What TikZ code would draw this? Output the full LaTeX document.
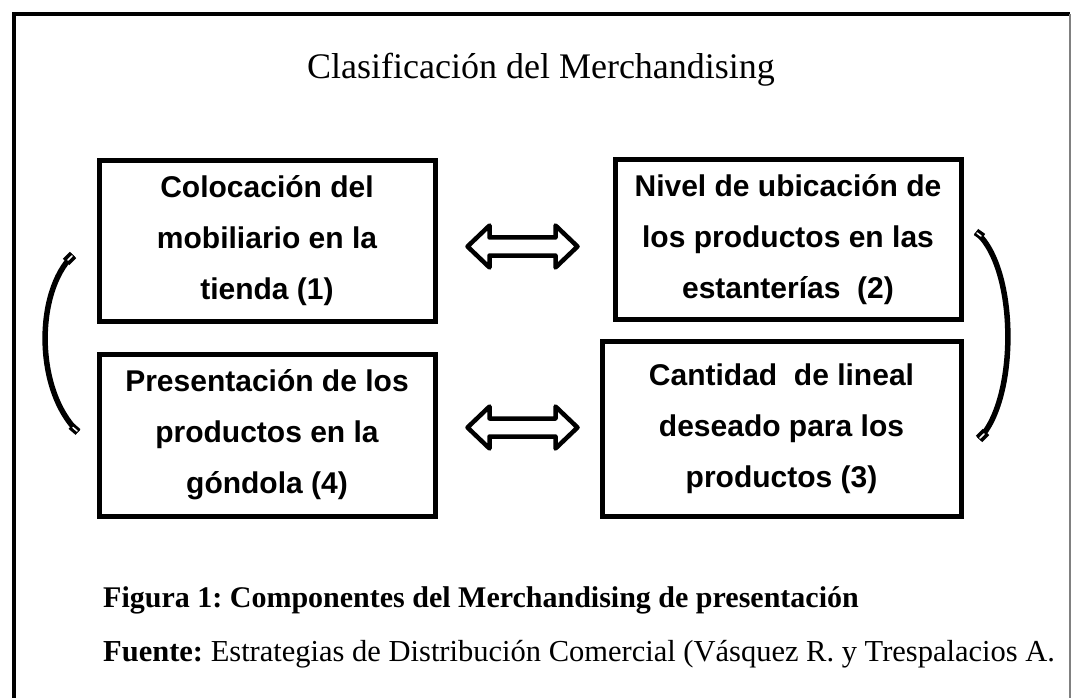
\documentclass[tikz,border=0pt]{standalone}
\usepackage{fontspec}
\setmainfont{Liberation Serif}
\newfontfamily\arialfont{Liberation Sans}
\usetikzlibrary{calc}
\frenchspacing
\begin{document}
\begin{tikzpicture}[x=1pt,y=-1pt,
  frameline/.style={line width=4.5pt},
  boxnode/.style={draw, line width=5pt, align=center, inner sep=0pt,
    font=\arialfont\bfseries\fontsize{30}{51}\selectfont},
  arrowline/.style={line width=4.5pt, line join=round},
  curveline/.style={line width=5.5pt},
  headline/.style={line width=9pt},
  slit/.style={draw=white, line width=1.5pt, line cap=round},
  dblarrow/.pic={\draw[arrowline] (-55,0) -- (-33,-21) -- (-33,-9) -- (33,-9) -- (33,-21) -- (55,0) -- (33,21) -- (33,9) -- (-33,9) -- (-33,21) -- cycle;}
]
\useasboundingbox (0,0) rectangle (1072,698);
% outer frame
\draw[frameline] (14,698) -- (14,14) -- (1070,14);
\draw[line width=1.2pt, gray] (1070,14) -- (1070,698);

\node (title) at (541,70) {\fontsize{36}{40}\selectfont Clasificación del Merchandising};

\node[boxnode, minimum width=336pt, minimum height=160pt] (b1) at (267,241)
  {Colocación del\\mobiliario en la\\tienda (1)};
\node[boxnode, minimum width=346pt, minimum height=159pt] (b2) at (788,239.5)
  {Nivel de ubicación de\\los productos en las\\estanterías\ \ (2)};
\node[boxnode, minimum width=359pt, minimum height=175pt] (b3) at (781.5,428.5)
  {Cantidad\ \ de lineal\\deseado para los\\productos (3)};
\node[boxnode, minimum width=336pt, minimum height=162pt] (b4) at (267,435)
  {Presentación de los\\productos en la\\góndola (4)};

% double arrows
\coordinate (m12) at (522.5,246.5);
\coordinate (m43) at (522.5,427.5);
\pic at (m12) {dblarrow};
\pic at (m43) {dblarrow};

% curved arrows
\coordinate (lt) at (73,255);
\coordinate (lb) at (78,432);
\coordinate (rt) at (976,232);
\coordinate (rb) at (979,439);
\draw[curveline] (lt) .. controls (35,292) and (35,390) .. (lb);
\draw[curveline] (rt) .. controls (1018,268) and (1018,400) .. (rb);
% end heads
\draw[headline] (lt) -- ++(-7,7);
\draw[slit] ($(lt)+(-1,1)$) -- ++(-4,4);
\draw[headline, line width=7.5pt] (lb) -- ++(-7,-6);
\draw[slit] ($(lb)+(-1,-1)$) -- ++(-4,-3.5);
\draw[headline, line width=7.5pt] (rt) -- ++(7,5);
\draw[slit] ($(rt)+(1,1)$) -- ++(4,3);
\draw[headline] (rb) -- ++(7,-7);
\draw[slit] ($(rb)+(1,-1)$) -- ++(4,-4);

\node[anchor=base west, inner sep=0pt] (fig) at (103,607) {\fontsize{30}{34}\selectfont\bfseries Figura 1: Componentes del Merchandising de presentación};
\node[anchor=base west, inner sep=0pt] (src) at (103,661) {\fontsize{30.5}{34}\selectfont\textbf{Fuente:} Estrategias de Distribución Comercial (Vásquez R. y Trespalacios A.};
\end{tikzpicture}
\end{document}
